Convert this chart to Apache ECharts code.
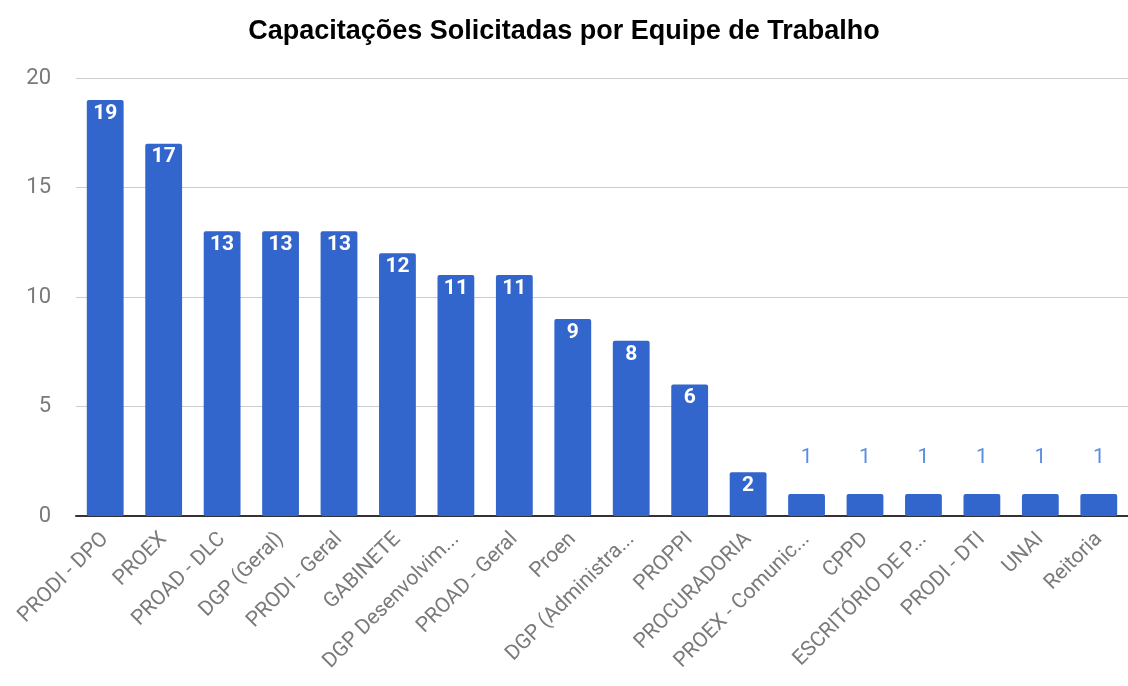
<!DOCTYPE html>
<html>
<head>
<meta charset="utf-8">
<script src="https://cdn.jsdelivr.net/npm/echarts@6/dist/echarts.min.js"></script>
<style>
  html, body { margin: 0; padding: 0; background: #fff; }
  #chart { width: 1128px; height: 686px; }
</style>
</head>
<body>
<div id="chart"></div>
<script>
// equipes e quantidade de capacitações
var categorias = ['PRODI - DPO', 'PROEX', 'PROAD - DLC', 'DGP (Geral)', 'PRODI - Geral', 'GABINETE',
    'DGP Desenvolvim...', 'PROAD - Geral', 'Proen', 'DGP (Administra...', 'PROPPI', 'PROCURADORIA',
    'PROEX - Comunic...', 'CPPD', 'ESCRITÓRIO DE P...', 'PRODI - DTI', 'UNAI', 'Reitoria'];
var valores = [19, 17, 13, 13, 13, 12, 11, 11, 9, 8, 6, 2, 1, 1, 1, 1, 1, 1];
var yTicks = [0, 5, 10, 15, 20];

var chart = echarts.init(document.getElementById('chart'));

// barras pequenas demais: rótulo vai por cima, em azul
var dados = valores.map(function (v) {
    if (v < 2) {
        return {
            value: v,
            label: { position: 'top', distance: 26, color: '#5c8de0', fontWeight: 'normal' }
        };
    }
    return v;
});

var option = {
    animation: false,
    textStyle: { fontFamily: 'Roboto, Arial, sans-serif' },
    title: {
        text: 'Capacitações Solicitadas por Equipe de Trabalho',
        left: 'center',
        top: 13,
        textStyle: { fontFamily: 'Arial, "Liberation Sans", sans-serif', fontSize: 27, fontWeight: 'bold', color: '#000' }
    },
    grid: { left: 76, right: 0, top: 78, bottom: 170 },
    xAxis: {
        type: 'category',
        data: categorias,
        axisTick: { show: false },
        axisLine: { lineStyle: { color: '#333', width: 2 } },
        axisLabel: { rotate: 45, interval: 0, color: '#7a7a7a', fontSize: 21, margin: 20 }
    },
    yAxis: {
        type: 'value',
        min: yTicks[0],
        max: yTicks[yTicks.length - 1],
        interval: 5,
        axisLabel: { color: '#7a7a7a', fontSize: 22, margin: 25 },
        splitLine: { lineStyle: { color: '#cccccc' } }
    },
    series: [{
        type: 'bar',
        data: dados,
        barCategoryGap: '37%',
        itemStyle: { color: '#3366cc', borderRadius: 2 },
        label: {
            show: true,
            position: 'insideTop',
            distance: 3,
            color: '#fff',
            fontSize: 21,
            fontWeight: 'bold'
        }
    }]
};

chart.setOption(option);
</script>
</body>
</html>
